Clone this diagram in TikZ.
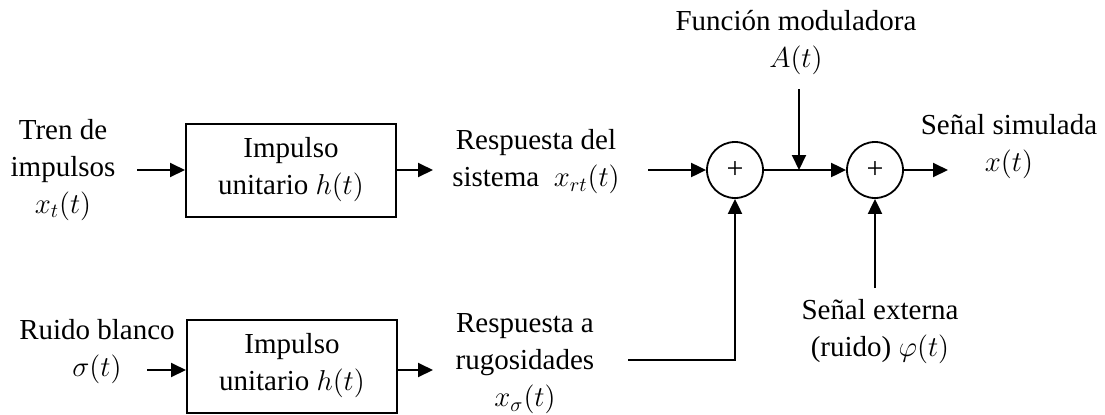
\documentclass[tikz,border=0pt]{standalone}
\usepackage{fontspec}
\setmainfont{Liberation Serif}
\usetikzlibrary{arrows.meta}
\begin{document}
\begin{tikzpicture}[x=0.5pt,y=-0.5pt,
  every node/.style={font=\fontsize{14.5}{18.5}\selectfont},
  lbl/.style={align=center, inner sep=0pt},
  blk/.style={draw, line width=1pt, minimum width=105pt, minimum height=46.5pt, align=center, inner sep=0pt},
  sumnode/.style={draw, circle, line width=0.9pt, minimum size=28pt, inner sep=0pt, font=\fontsize{15}{15}\selectfont},
  arr/.style={line width=1pt, -{Triangle[length=7.5pt,width=7pt]}},
  ln/.style={line width=1pt}]
\useasboundingbox (0,0) rectangle (1105,414);
% top row
\node[lbl] (in1) at (63,170) {Tren de\\impulsos\\$x_t(t)$};
\node[blk] (box1) at (291,170) {Impulso\\unitario $h(t)$};
\node[lbl] (rs1) at (536,162) {Respuesta del\\sistema\ \ $x_{rt}(t)$};
\node[sumnode] (c1) at (735,170) {+};
\node[sumnode] (c2) at (875,170) {+};
\node[lbl] (fm) at (796,43) {Función moduladora\\$A(t)$};
\node[lbl] (ss) at (1009,147) {Señal simulada\\$x(t)$};
\node[lbl] (se) at (880,332) {Señal externa\\(ruido) $\varphi(t)$};
% bottom row
\node[lbl] (rb) at (97,352) {Ruido blanco\\$\sigma(t)$};
\node[blk] (box2) at (292,366) {Impulso\\unitario $h(t)$};
\node[lbl] (ra) at (525,364) {Respuesta a\\rugosidades\\$x_\sigma(t)$};
% coordinates for free ends
\coordinate (s1) at (137,170);
\coordinate (e1) at (433,170);
\coordinate (s2) at (648,170);
\coordinate (a1) at (799,89);
\coordinate (o1) at (948,170);
\coordinate (u1) at (875,288);
\coordinate (s3) at (147,370);
\coordinate (e3) at (433,370);
\coordinate (s4) at (628,360);
% connectors
\draw[arr] (s1) -- (box1.west |- s1);
\draw[arr] (box1.east |- e1) -- (e1);
\draw[arr] (s2) -- (c1.west);
\draw[arr] (c1.east) -- (c2.west);
\draw[arr] (a1) -- (a1 |- c2);
\draw[arr] (c2.east) -- (o1);
\draw[arr] (u1) -- (c2.south);
\draw[arr] (s3) -- (box2.west |- s3);
\draw[arr] (box2.east |- e3) -- (e3);
\draw[arr] (s4) -| (c1.south);
\end{tikzpicture}
\end{document}
